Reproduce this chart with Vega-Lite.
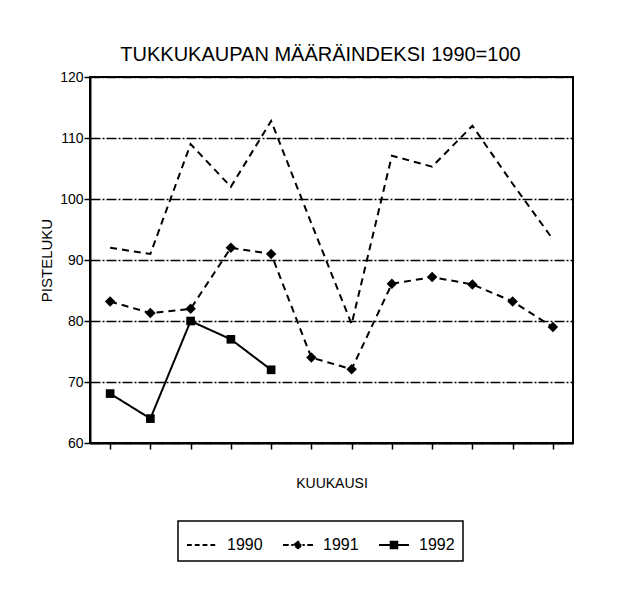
{
  "$schema": "https://vega.github.io/schema/vega-lite/v6.json",
  "autosize": {"type": "none"},
  "width": 483,
  "height": 366,
  "padding": {"left": 90, "top": 77, "right": 54, "bottom": 151},
  "background": "white",
  "title": {
    "text": "TUKKUKAUPAN MÄÄRÄINDEKSI 1990=100",
    "font": "Liberation Sans",
    "fontSize": 20,
    "fontWeight": "normal",
    "color": "black",
    "anchor": "middle",
    "dx": -11,
    "offset": 5
  },
  "config": {
    "view": {"stroke": "black", "strokeWidth": 2},
    "font": "Liberation Sans",
    "axis": {
      "labelFont": "Liberation Sans",
      "titleFont": "Liberation Sans",
      "labelColor": "black",
      "titleColor": "black",
      "domainColor": "black",
      "tickColor": "black",
      "titleFontWeight": "normal"
    }
  },
  "data": {
    "values": [
      {"month": 1, "series": "1990", "value": 92},
      {"month": 2, "series": "1990", "value": 91},
      {"month": 3, "series": "1990", "value": 109},
      {"month": 4, "series": "1990", "value": 102},
      {"month": 5, "series": "1990", "value": 112.8},
      {"month": 6, "series": "1990", "value": 96},
      {"month": 7, "series": "1990", "value": 79.5},
      {"month": 8, "series": "1990", "value": 107.1},
      {"month": 9, "series": "1990", "value": 105.3},
      {"month": 10, "series": "1990", "value": 112},
      {"month": 11, "series": "1990", "value": 102.5},
      {"month": 12, "series": "1990", "value": 93.4},
      {"month": 1, "series": "1991", "value": 83.2},
      {"month": 2, "series": "1991", "value": 81.3},
      {"month": 3, "series": "1991", "value": 82},
      {"month": 4, "series": "1991", "value": 92},
      {"month": 5, "series": "1991", "value": 91},
      {"month": 6, "series": "1991", "value": 74},
      {"month": 7, "series": "1991", "value": 72.1},
      {"month": 8, "series": "1991", "value": 86.1},
      {"month": 9, "series": "1991", "value": 87.2},
      {"month": 10, "series": "1991", "value": 86},
      {"month": 11, "series": "1991", "value": 83.2},
      {"month": 12, "series": "1991", "value": 79},
      {"month": 1, "series": "1992", "value": 68.1},
      {"month": 2, "series": "1992", "value": 64},
      {"month": 3, "series": "1992", "value": 80},
      {"month": 4, "series": "1992", "value": 77},
      {"month": 5, "series": "1992", "value": 72}
    ]
  },
  "encoding": {
    "x": {
      "field": "month",
      "type": "ordinal",
      "scale": {"type": "point", "padding": 0.5},
      "axis": {
        "title": "KUUKAUSI",
        "titleFontSize": 14,
        "titlePadding": 27,
        "labels": false,
        "ticks": true,
        "tickSize": 6,
        "tickWidth": 1.5,
        "domainWidth": 2,
        "grid": false
      }
    },
    "y": {
      "field": "value",
      "type": "quantitative",
      "scale": {"domain": [60, 120], "nice": false, "zero": false},
      "axis": {
        "title": "PISTELUKU",
        "titleFontSize": 15,
        "titlePadding": 5,
        "values": [60, 70, 80, 90, 100, 110, 120],
        "labelFontSize": 14,
        "labelPadding": 1,
        "tickSize": 6,
        "tickWidth": 1.5,
        "domainWidth": 2,
        "grid": true,
        "gridColor": "black",
        "gridWidth": 1.3,
        "gridDash": [10, 2, 2, 2],
        "gridOpacity": 1
      }
    }
  },
  "layer": [
    {
      "mark": {"type": "line", "color": "black"},
      "encoding": {
        "strokeDash": {
          "field": "series",
          "type": "nominal",
          "scale": {"domain": ["1990", "1991", "1992"], "range": [[7, 5], [7, 5], [1, 0]]},
          "legend": {
            "title": null,
            "orient": "none",
            "legendX": 88,
            "legendY": 444,
            "direction": "horizontal",
            "strokeColor": "black",
            "padding": 8,
            "symbolSize": 900,
            "symbolStrokeWidth": 1.8,
            "symbolStrokeColor": "black",
            "symbolFillColor": "black",
            "labelFont": "Liberation Sans",
            "labelFontSize": 16,
            "labelColor": "black",
            "labelOffset": 9,
            "columnPadding": 16,
            "encode": {
              "legend": {"update": {"strokeWidth": {"value": 1.5}}},
              "symbols": {
                "update": {
                  "shape": {"signal": "datum.value === '1990' ? 'M-1,0H-0.68M-0.48,0H-0.16M0.04,0H0.36M0.56,0H0.88' : datum.value === '1991' ? 'M-1,0H-0.62M-0.45,0H-0.3M-0.27,0L0,-0.22L0.27,0L0,0.22ZM0.3,0H0.45M0.62,0H1' : 'M-1,0H1M-0.22,-0.22H0.22V0.22H-0.22Z'"},
                  "strokeDash": {"value": [1, 0]},
                  "stroke": {"value": "black"},
                  "fill": {"value": "black"},
                  "strokeWidth": {"value": 1.8}
                }
              }
            }
          }
        },
        "strokeWidth": {
          "field": "series",
          "type": "nominal",
          "scale": {"domain": ["1990", "1991", "1992"], "range": [2, 2, 2.8]},
          "legend": null
        }
      }
    },
    {
      "transform": [{"filter": "datum.series !== '1990'"}],
      "mark": {"type": "point", "filled": true, "color": "black", "opacity": 1},
      "encoding": {
        "shape": {
          "field": "series",
          "type": "nominal",
          "scale": {"domain": ["1991", "1992"], "range": ["diamond", "square"]},
          "legend": null
        },
        "size": {
          "field": "series",
          "type": "nominal",
          "scale": {"domain": ["1991", "1992"], "range": [110, 75]},
          "legend": null
        }
      }
    }
  ]
}
